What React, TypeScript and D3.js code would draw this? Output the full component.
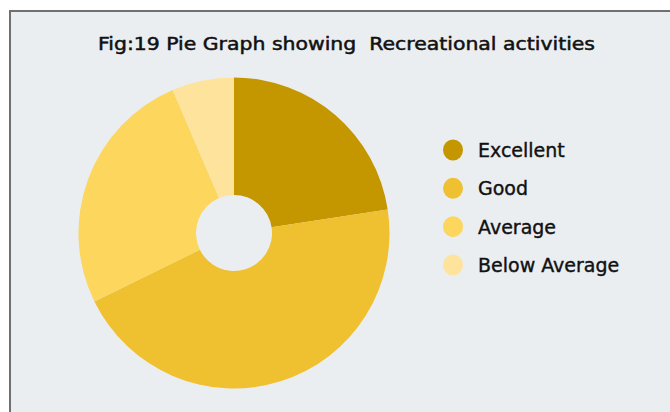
import React from "react";
import * as d3 from "d3";

const categories = ["Excellent", "Good", "Average", "Below Average"];
const values = [7, 14, 8, 2];
const colors = ["#c49600", "#efc02f", "#fcd65d", "#fee39c"];
const title = "Fig:19 Pie Graph showing  Recreational activities";

const W = 670;
const H = 412;
const cx = 234;
const cy = 233;
const outerR = 155.5;
const innerR = 38;
const font = "'Comic Sans MS', 'DejaVu Sans', sans-serif";

export default function App() {
  const pie = d3
    .pie<number>()
    .sort(null)
    .value((d) => d)
    .startAngle(0)
    .endAngle(2 * Math.PI);
  const arcs = pie(values);
  const arc = d3.arc<d3.PieArcDatum<number>>().innerRadius(innerR).outerRadius(outerR);
  const color = d3.scaleOrdinal<string, string>().domain(categories).range(colors);
  const legendY = d3.scalePoint<string>().domain(categories).range([150, 265]);

  return (
    <div style={{ position: "fixed", left: 0, top: 0, width: W, height: H, background: "#ffffff" }}>
      <svg width={W} height={H} style={{ display: "block" }}>
        <rect x={10} y={11} width={W} height={H} fill="#ebeef1" stroke="#707070" strokeWidth={2} />
        <text
          x={98}
          y={50}
          fontFamily={font}
          fontSize={17.5}
          fill="#111"
          stroke="#111"
          strokeWidth={0.5}
          textLength={497}
          lengthAdjust="spacingAndGlyphs"
          style={{ whiteSpace: "pre" }}
        >
          {title}
        </text>
        <g transform={`translate(${cx},${cy})`}>
          {arcs.map((a, i) => (
            <path key={categories[i]} d={arc(a) || ""} fill={color(categories[i])} />
          ))}
        </g>
        <g>
          {categories.map((c) => (
            <g key={c} transform={`translate(453,${legendY(c)})`}>
              <ellipse cx={0} cy={0} rx={10} ry={10.5} fill={color(c)} />
              <text
                x={25}
                y={7}
                fontFamily={font}
                fontSize={19}
                fill="#111"
                stroke="#111"
                strokeWidth={0.4}
              >
                {c}
              </text>
            </g>
          ))}
        </g>
      </svg>
    </div>
  );
}
